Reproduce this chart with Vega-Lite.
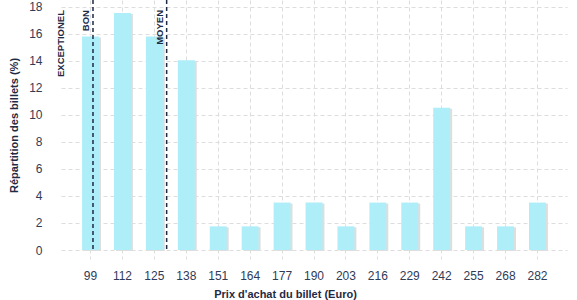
{
  "$schema": "https://vega.github.io/schema/vega-lite/v6.json",
  "width": 506,
  "height": 250,
  "autosize": {"type": "none"},
  "padding": {"left": 61, "top": 0, "right": 10, "bottom": 50},
  "background": "white",
  "config": {
    "view": {"stroke": null},
    "font": "Liberation Sans",
    "axis": {
      "domain": false,
      "grid": true,
      "gridColor": "#dddddd",
      "gridDash": [4, 3],
      "gridWidth": 1,
      "labelFont": "Liberation Sans",
      "labelFontSize": 12,
      "labelColor": "#2f3b57",
      "labelOverlap": false,
      "titleFont": "Liberation Sans",
      "titleFontSize": 11,
      "titleFontWeight": "bold",
      "titleColor": "#1f2a44"
    }
  },
  "datasets": {
    "billets": [
      {"prix": 99, "pct": 15.79},
      {"prix": 112, "pct": 17.54},
      {"prix": 125, "pct": 15.79},
      {"prix": 138, "pct": 14.04},
      {"prix": 151, "pct": 1.75},
      {"prix": 164, "pct": 1.75},
      {"prix": 177, "pct": 3.51},
      {"prix": 190, "pct": 3.51},
      {"prix": 203, "pct": 1.75},
      {"prix": 216, "pct": 3.51},
      {"prix": 229, "pct": 3.51},
      {"prix": 242, "pct": 10.53},
      {"prix": 255, "pct": 1.75},
      {"prix": 268, "pct": 1.75},
      {"prix": 282, "pct": 3.51}
    ],
    "seuils": [
      {"categorie": "EXCEPTIONEL", "prix": 90},
      {"categorie": "BON", "prix": 100},
      {"categorie": "MOYEN", "prix": 130}
    ]
  },
  "layer": [
    {
      "data": {"name": "billets"},
      "mark": {"type": "bar", "color": "#dedede", "xOffset": 2, "yOffset": 1},
      "encoding": {
        "x": {
          "field": "prix", "type": "ordinal",
          "scale": {"paddingInner": 0.47, "paddingOuter": 0.66},
          "axis": {
            "title": "Prix d'achat du billet (Euro)",
            "labelAngle": 0,
            "grid": true,
            "ticks": true,
            "tickSize": 12,
            "tickColor": "#dddddd",
            "tickDash": [3, 3],
            "labelPadding": 17,
            "labelBaseline": "alphabetic",
            "titleX": 224,
            "titleY": 47,
            "titleAlign": "center",
            "titleBaseline": "alphabetic"
          }
        },
        "y": {
          "field": "pct", "type": "quantitative",
          "scale": {"domain": [0, 18.5], "nice": false},
          "axis": {
            "title": "Répartition des billets (%)",
            "values": [0, 2, 4, 6, 8, 10, 12, 14, 16, 18],
            "grid": true,
            "ticks": false,
            "labelPadding": 19,
            "labelOverlap": false,
            "titleX": -44,
            "titleY": 125,
            "titleAngle": 270,
            "titleAlign": "center",
            "titleBaseline": "alphabetic"
          }
        }
      }
    },
    {
      "data": {"name": "billets"},
      "mark": {"type": "bar", "color": "#adeef8"},
      "encoding": {
        "x": {"field": "prix", "type": "ordinal", "scale": {"paddingInner": 0.47, "paddingOuter": 0.66}, "axis": null},
        "y": {
          "field": "pct", "type": "quantitative",
          "scale": {"domain": [0, 18.5], "nice": false},
          "axis": {
            "title": "Répartition des billets (%)",
            "values": [0, 2, 4, 6, 8, 10, 12, 14, 16, 18],
            "grid": true,
            "ticks": false,
            "labelPadding": 19,
            "labelOverlap": false,
            "titleX": -44,
            "titleY": 125,
            "titleAngle": 270,
            "titleAlign": "center",
            "titleBaseline": "alphabetic"
          }
        }
      }
    },
    {
      "data": {"name": "seuils"},
      "transform": [{"filter": "datum.categorie !== 'EXCEPTIONEL'"}],
      "mark": {"type": "rule", "strokeDash": [4, 3], "strokeWidth": 1.5, "color": "#1e2a44"},
      "encoding": {
        "x": {"field": "prix", "type": "quantitative", "scale": {"domain": [86.97, 293.05], "nice": false, "zero": false}, "axis": null}
      }
    },
    {
      "data": {"name": "seuils"},
      "mark": {"type": "text", "angle": 270, "align": "right", "baseline": "alphabetic", "dx": -10, "dy": -4, "fontSize": 9.5, "fontWeight": "bold", "color": "#1e2a44"},
      "encoding": {
        "x": {"field": "prix", "type": "quantitative", "scale": {"domain": [86.97, 293.05], "nice": false, "zero": false}, "axis": null},
        "y": {
          "datum": 18.5, "type": "quantitative",
          "axis": {
            "title": "Répartition des billets (%)",
            "values": [0, 2, 4, 6, 8, 10, 12, 14, 16, 18],
            "grid": true,
            "ticks": false,
            "labelPadding": 19,
            "labelOverlap": false,
            "titleX": -44,
            "titleY": 125,
            "titleAngle": 270,
            "titleAlign": "center",
            "titleBaseline": "alphabetic"
          }
        },
        "text": {"field": "categorie"}
      }
    }
  ],
  "resolve": {"scale": {"x": "independent"}}
}
